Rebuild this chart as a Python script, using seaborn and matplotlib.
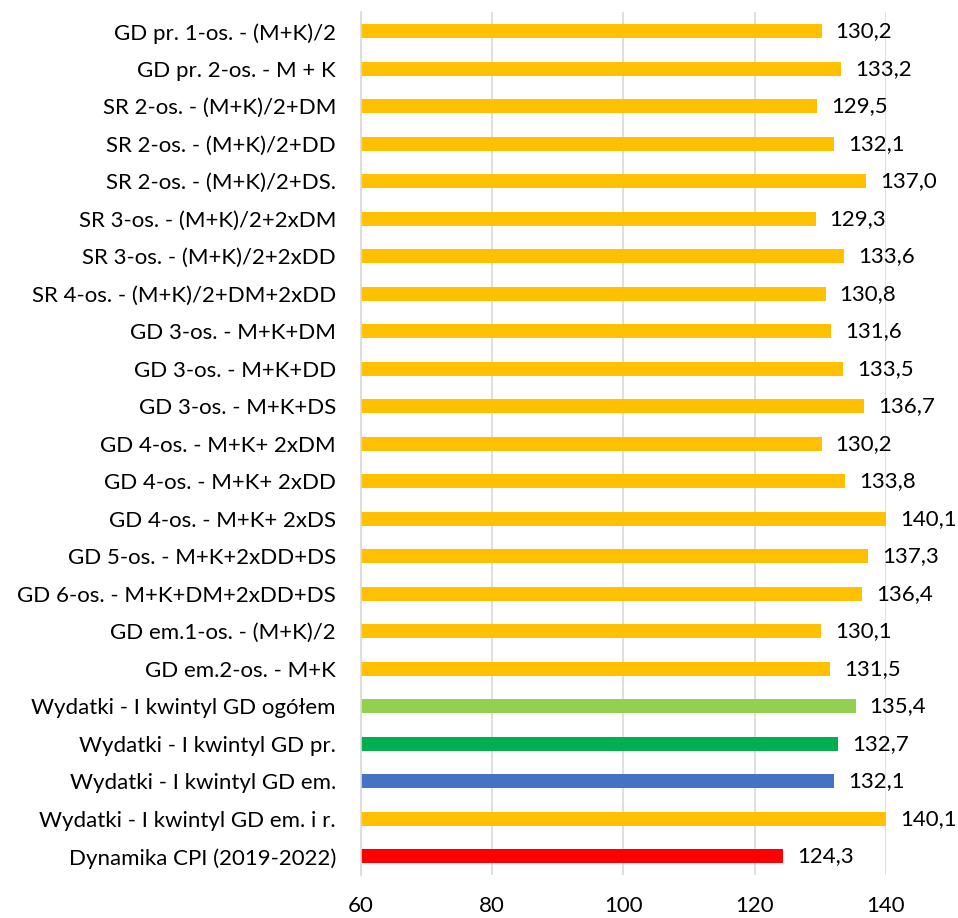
import matplotlib
matplotlib.use("Agg")
import matplotlib.pyplot as plt
import seaborn as sns
import pandas as pd

categories = [
    "GD pr. 1-os. - (M+K)/2",
    "GD pr. 2-os. - M + K",
    "SR 2-os. - (M+K)/2+DM",
    "SR 2-os. - (M+K)/2+DD",
    "SR 2-os. - (M+K)/2+DS.",
    "SR 3-os. - (M+K)/2+2xDM",
    "SR 3-os. - (M+K)/2+2xDD",
    "SR 4-os. - (M+K)/2+DM+2xDD",
    "GD 3-os. - M+K+DM",
    "GD 3-os. - M+K+DD",
    "GD 3-os. - M+K+DS",
    "GD 4-os. - M+K+ 2xDM",
    "GD 4-os. - M+K+ 2xDD",
    "GD 4-os. - M+K+ 2xDS",
    "GD 5-os. - M+K+2xDD+DS",
    "GD 6-os. - M+K+DM+2xDD+DS",
    "GD em.1-os. - (M+K)/2",
    "GD em.2-os. - M+K",
    "Wydatki - I kwintyl GD ogółem",
    "Wydatki - I kwintyl GD pr.",
    "Wydatki - I kwintyl GD em.",
    "Wydatki - I kwintyl GD em. i r.",
    "Dynamika CPI (2019-2022)",
]
values = [130.2, 133.2, 129.5, 132.1, 137.0, 129.3, 133.6, 130.8, 131.6, 133.5,
          136.7, 130.2, 133.8, 140.1, 137.3, 136.4, 130.1, 131.5, 135.4, 132.7,
          132.1, 140.1, 124.3]

yellow = "#FFC000"
colors = [yellow] * 18 + ["#92D050", "#00B050", "#4472C4", yellow, "#FF0000"]

df = pd.DataFrame({"cat": categories, "val": values})

plt.rcParams["font.family"] = ["Lato", "DejaVu Sans"]

fig = plt.figure(figsize=(9.58, 9.18), dpi=100)
ax = fig.add_axes([0.3768, 0.0468, 0.548, 0.9396])

sns.barplot(df, x="val", y="cat", hue="cat", palette=dict(zip(categories, colors)),
            legend=False, width=0.37, orient="h", ax=ax, saturation=1)

ax.set_xlim(60, 140)
ax.set_xticks([60, 80, 100, 120, 140])
ax.set_ylim(len(categories) - 0.5, -0.5)
ax.set_xlabel("")
ax.set_ylabel("")
ax.grid(axis="x", color="#D9D9D9", linewidth=1.2)
ax.set_axisbelow(True)
for s in ["top", "right", "bottom"]:
    ax.spines[s].set_visible(False)
ax.spines["left"].set_color("#D9D9D9")
ax.spines["left"].set_linewidth(1.2)
ax.tick_params(axis="both", length=0, labelsize=16, colors="black")
ax.tick_params(axis="x", pad=15)
ax.tick_params(axis="y", pad=18)

# bars for 140,1 stick past the axis edge, so their labels must not be clipped
for cont in ax.containers:
    ax.bar_label(cont, labels=[f"{v:.1f}".replace(".", ",") for v in cont.datavalues],
                 padding=10, fontsize=16, annotation_clip=False)

fig.savefig("out.png", dpi=100)
